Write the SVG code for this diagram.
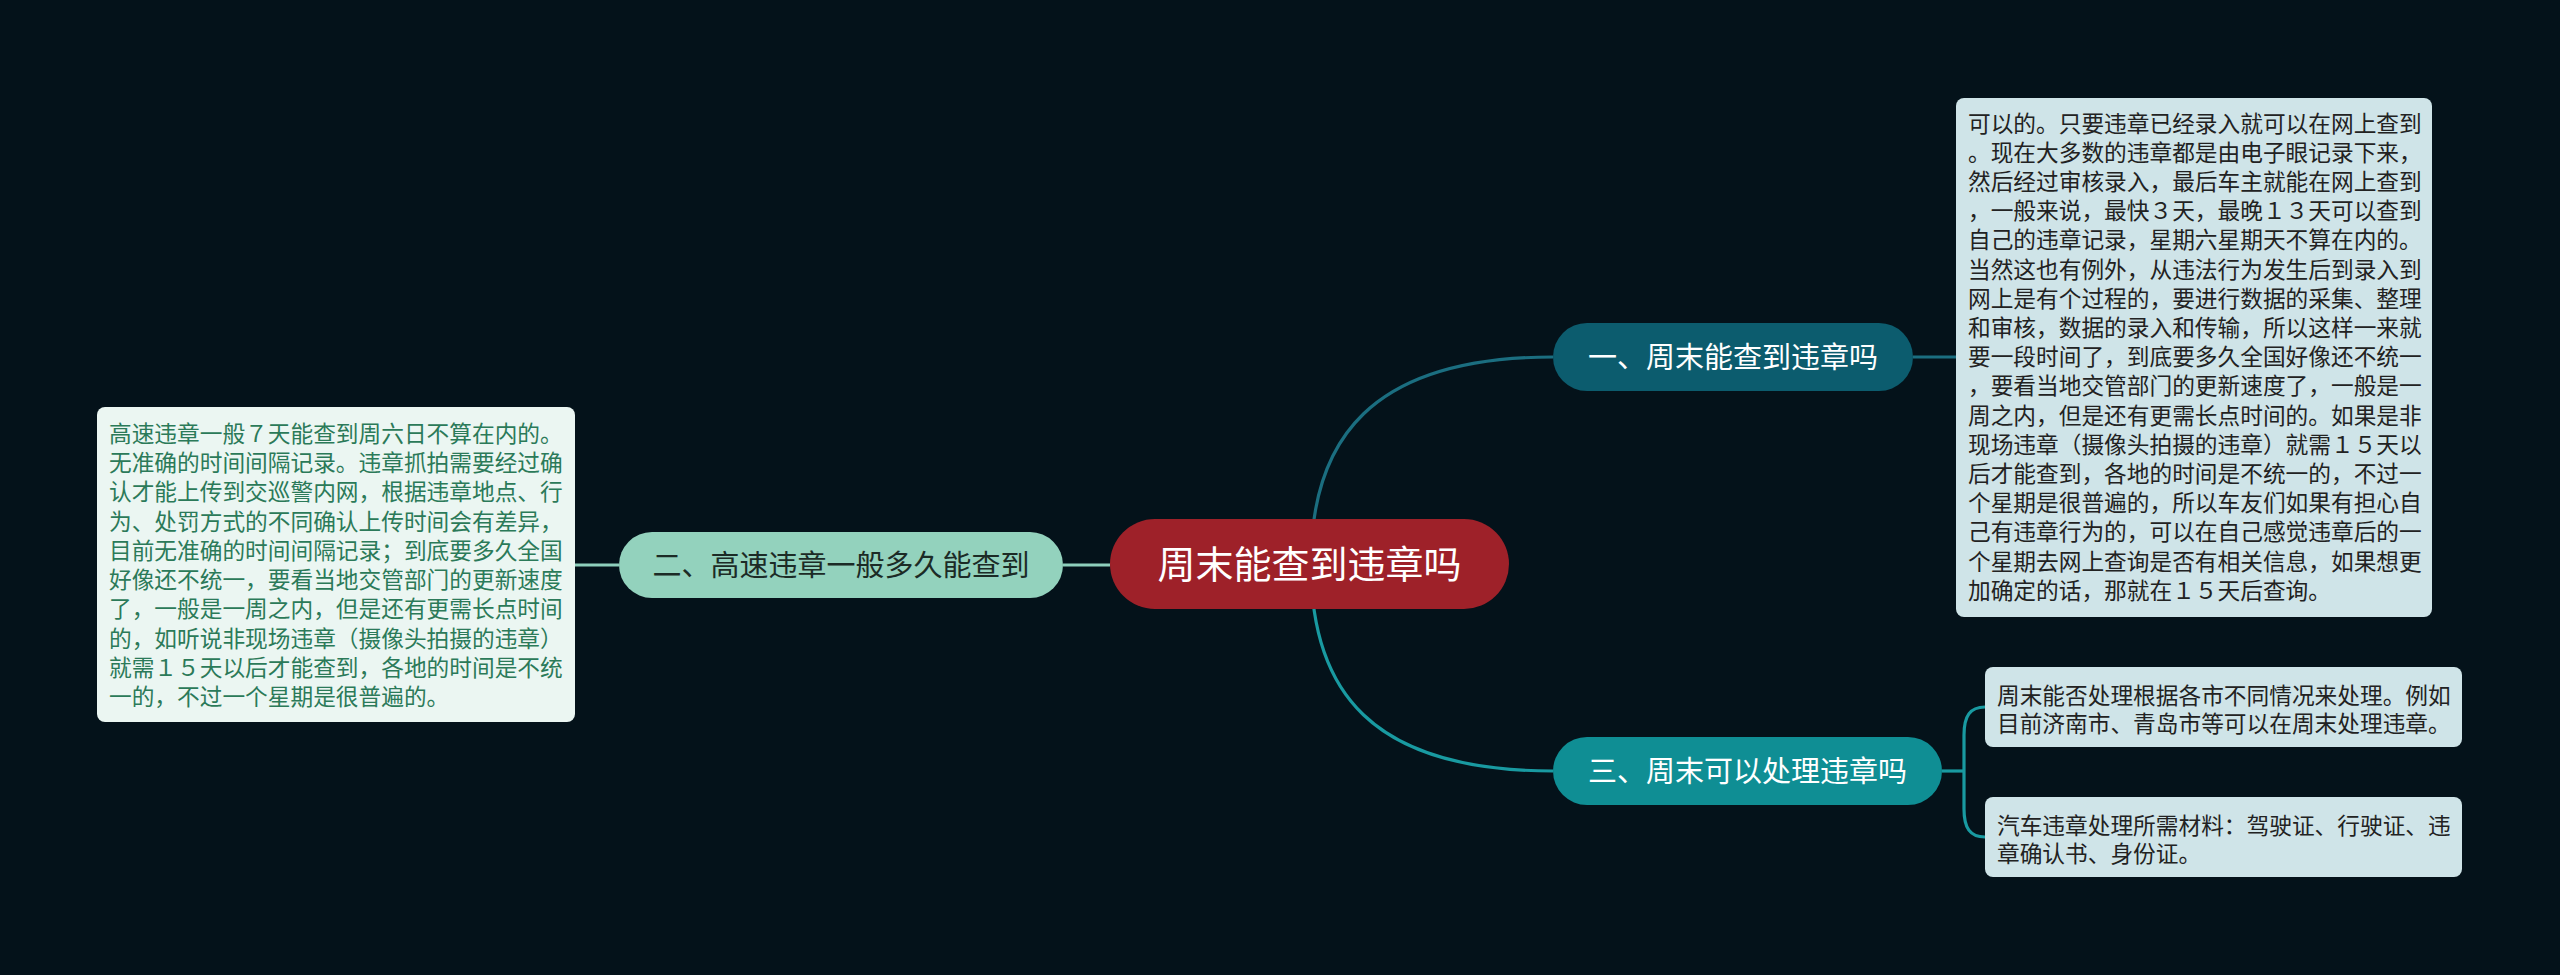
<svg xmlns="http://www.w3.org/2000/svg" width="2560" height="975" viewBox="0 0 2560 975">
<style>
.cjk{font-family:"Noto Sans CJK SC","Noto Sans CJK JP",sans-serif}
.node-t{font-size:29px;text-anchor:middle}
.box-t{font-size:22.7px}
.conn{fill:none;stroke-width:3.2}
</style>
<rect x="0" y="0" width="2560" height="975" fill="#04121A"/>
<g id="connectors">
<path class="conn" stroke="#1B6E80" d="M1311 564 C1311 440 1370 357 1553 357"/>
<path class="conn" stroke="#1B6E80" d="M1913 357 L1956 357"/>
<path class="conn" stroke="#199AA1" d="M1311 564 C1311 690 1370 771 1553 771"/>
<path class="conn" stroke="#199AA1" d="M1942 771 L1964 771"/>
<path class="conn" stroke="#199AA1" d="M1985 707 C1970 707 1964 716 1964 735 L1964 809 C1964 828 1970 837 1985 837"/>
<path class="conn" stroke="#8ECFBC" d="M1063 565 L1110 565"/>
<path class="conn" stroke="#8ECFBC" d="M575 565 L619 565"/>
</g>
<g id="center">
<rect x="1110" y="519" width="399" height="90" rx="45" fill="#9E2129"/>
<text class="cjk" x="1309.5" y="578" font-size="38" text-anchor="middle" fill="#FFFFFF">周末能查到违章吗</text>
</g>
<g id="node1">
<rect x="1553" y="323" width="360" height="68" rx="34" fill="#0C5C6E"/>
<text class="cjk node-t" x="1733" y="368" fill="#FFFFFF">一、周末能查到违章吗</text>
</g>
<g id="node2">
<rect x="619" y="532" width="444" height="66" rx="33" fill="#93D2BD"/>
<text class="cjk node-t" x="841" y="576" fill="#1C2B26">二、高速违章一般多久能查到</text>
</g>
<g id="node3">
<rect x="1553" y="737" width="389" height="68" rx="34" fill="#0F8E94"/>
<text class="cjk node-t" x="1747.5" y="782" fill="#FFFFFF">三、周末可以处理违章吗</text>
</g>
<g id="box-right">
<rect x="1956" y="98" width="476" height="519" rx="8" fill="#CFE4E8"/>
<text class="cjk box-t" fill="#222222">
<tspan x="1968" y="131.5">可以的。只要违章已经录入就可以在网上查到</tspan>
<tspan x="1968" y="160.7">。现在大多数的违章都是由电子眼记录下来，</tspan>
<tspan x="1968" y="189.9">然后经过审核录入，最后车主就能在网上查到</tspan>
<tspan x="1968" y="219.1">，一般来说，最快３天，最晚１３天可以查到</tspan>
<tspan x="1968" y="248.3">自己的违章记录，星期六星期天不算在内的。</tspan>
<tspan x="1968" y="277.5">当然这也有例外，从违法行为发生后到录入到</tspan>
<tspan x="1968" y="306.7">网上是有个过程的，要进行数据的采集、整理</tspan>
<tspan x="1968" y="335.9">和审核，数据的录入和传输，所以这样一来就</tspan>
<tspan x="1968" y="365.1">要一段时间了，到底要多久全国好像还不统一</tspan>
<tspan x="1968" y="394.3">，要看当地交管部门的更新速度了，一般是一</tspan>
<tspan x="1968" y="423.5">周之内，但是还有更需长点时间的。如果是非</tspan>
<tspan x="1968" y="452.7">现场违章（摄像头拍摄的违章）就需１５天以</tspan>
<tspan x="1968" y="481.9">后才能查到，各地的时间是不统一的，不过一</tspan>
<tspan x="1968" y="511.1">个星期是很普遍的，所以车友们如果有担心自</tspan>
<tspan x="1968" y="540.3">己有违章行为的，可以在自己感觉违章后的一</tspan>
<tspan x="1968" y="569.5">个星期去网上查询是否有相关信息，如果想更</tspan>
<tspan x="1968" y="598.7">加确定的话，那就在１５天后查询。</tspan>
</text>
</g>
<g id="box-left">
<rect x="97" y="407" width="478" height="315" rx="8" fill="#EBF6F2"/>
<text class="cjk box-t" fill="#2B7A59">
<tspan x="109" y="441.6">高速违章一般７天能查到周六日不算在内的。</tspan>
<tspan x="109" y="470.9">无准确的时间间隔记录。违章抓拍需要经过确</tspan>
<tspan x="109" y="500.2">认才能上传到交巡警内网，根据违章地点、行</tspan>
<tspan x="109" y="529.5">为、处罚方式的不同确认上传时间会有差异，</tspan>
<tspan x="109" y="558.8">目前无准确的时间间隔记录；到底要多久全国</tspan>
<tspan x="109" y="588.1">好像还不统一，要看当地交管部门的更新速度</tspan>
<tspan x="109" y="617.4">了，一般是一周之内，但是还有更需长点时间</tspan>
<tspan x="109" y="646.7">的，如听说非现场违章（摄像头拍摄的违章）</tspan>
<tspan x="109" y="676.0">就需１５天以后才能查到，各地的时间是不统</tspan>
<tspan x="109" y="705.3">一的，不过一个星期是很普遍的。</tspan>
</text>
</g>
<g id="box-a">
<rect x="1985" y="667" width="477" height="80" rx="8" fill="#CFE4E8"/>
<text class="cjk box-t" fill="#222222">
<tspan x="1997" y="703.5">周末能否处理根据各市不同情况来处理。例如</tspan>
<tspan x="1997" y="732">目前济南市、青岛市等可以在周末处理违章。</tspan>
</text>
</g>
<g id="box-b">
<rect x="1985" y="797" width="477" height="80" rx="8" fill="#CFE4E8"/>
<text class="cjk box-t" fill="#222222">
<tspan x="1997" y="833.5">汽车违章处理所需材料：驾驶证、行驶证、违</tspan>
<tspan x="1997" y="862">章确认书、身份证。</tspan>
</text>
</g>
</svg>
